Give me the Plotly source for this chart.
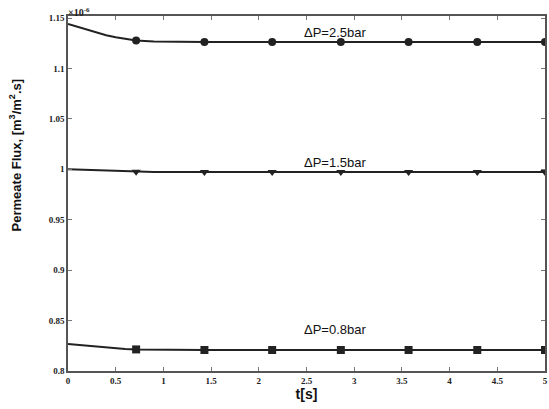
import plotly.graph_objects as go

# time grid (s) and flux values (x1e-6 m3/m2.s)
t = [0, 0.1, 0.2, 0.3, 0.4, 0.5, 0.6, 0.714, 0.9, 1.2, 1.43, 2.14, 2.86, 3.57, 4.29, 5.0]
flux_25 = [1.1440, 1.1412, 1.1382, 1.1354, 1.1330, 1.1310, 1.1292, 1.1278, 1.1268, 1.1263, 1.1262, 1.1262, 1.1262, 1.1262, 1.1262, 1.1262]
flux_15 = [1.0000, 0.9997, 0.9993, 0.9989, 0.9985, 0.9982, 0.9979, 0.9976, 0.9974, 0.9972, 0.9972, 0.9972, 0.9972, 0.9972, 0.9972, 0.9972]
flux_08 = [0.8267, 0.8258, 0.8248, 0.8239, 0.8231, 0.8224, 0.8219, 0.8214, 0.8211, 0.8209, 0.8208, 0.8208, 0.8208, 0.8208, 0.8208, 0.8208]

marker_t = [0.714, 1.43, 2.14, 2.86, 3.57, 4.29, 5.0]
labels = ["ΔP=2.5bar", "ΔP=1.5bar", "ΔP=0.8bar"]
label_y = [1.136, 1.007, 0.8415]

x_ticks = [0, 0.5, 1, 1.5, 2, 2.5, 3, 3.5, 4, 4.5, 5]
y_ticks = [0.8, 0.85, 0.9, 0.95, 1.0, 1.05, 1.1, 1.15]

series = [(flux_25, "circle"), (flux_15, "triangle-down"), (flux_08, "square")]

fig = go.Figure()
for vals, sym in series:
    fig.add_trace(go.Scatter(x=t, y=vals, mode="lines", line=dict(color="#222", width=2),
                             showlegend=False, hoverinfo="skip"))
    mvals = [vals[t.index(m)] for m in marker_t]
    fig.add_trace(go.Scatter(x=marker_t, y=mvals, mode="markers",
                             marker=dict(symbol=sym, size=8, color="#222"),
                             showlegend=False))

for lab, ly in zip(labels, label_y):
    fig.add_annotation(x=2.45, y=ly, xref="x", yref="y", text=lab, showarrow=False,
                       xanchor="left", yanchor="middle",
                       font=dict(family="Liberation Sans, Arial", size=13, color="#111"))

fig.add_annotation(x=0, y=1.0, xref="paper", yref="paper", text="×10<sup>-6</sup>",
                   showarrow=False, xanchor="left", yanchor="bottom", xshift=-2, yshift=-4,
                   font=dict(family="Liberation Serif", size=10, color="#222", weight="bold"))

# y-axis title placed as rotated annotation (positioned like the reference)
fig.add_annotation(x=-0.1106, y=0.608, xref="paper", yref="paper",
                   text="Permeate Flux, [m<sup>3</sup>/m<sup>2</sup>.s]", textangle=-90,
                   showarrow=False, xanchor="center", yanchor="middle",
                   font=dict(family="Liberation Sans, Arial", size=13, color="#111", weight="bold"))

axis_common = dict(showline=True, linecolor="#555", linewidth=1.5, mirror="ticks",
                   ticks="inside", ticklen=4, tickcolor="#777", showgrid=False, zeroline=False,
                   tickfont=dict(family="Liberation Serif", size=9, color="#222", weight="bold"))

fig.update_layout(
    width=549, height=409,
    margin=dict(l=68, r=2, t=16, b=38),
    plot_bgcolor="white", paper_bgcolor="white",
    xaxis=dict(range=[0, 5], tickvals=x_ticks, ticktext=[f"{v:g}" for v in x_ticks],
               title=dict(text="t[s]", standoff=2,
                          font=dict(family="Liberation Sans, Arial", size=14, color="#111", weight="bold")),
               **axis_common),
    yaxis=dict(range=[0.8, 1.152], tickvals=y_ticks, ticktext=[f"{v:g}" for v in y_ticks],
               **axis_common),
)

fig.write_html("out.html")
